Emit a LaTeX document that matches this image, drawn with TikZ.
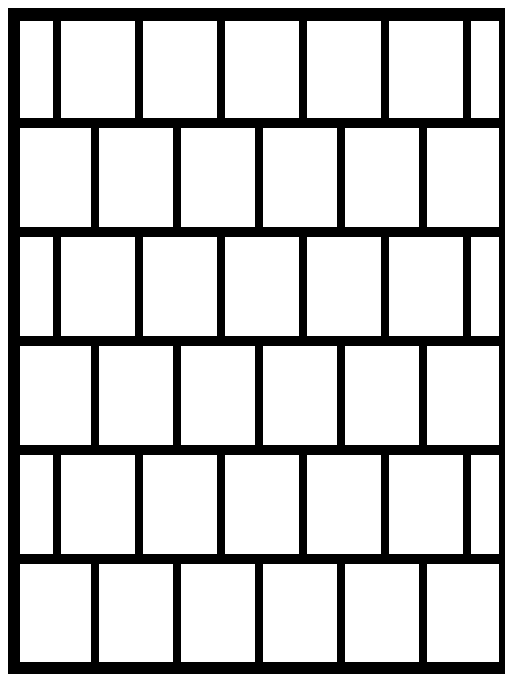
\documentclass[tikz,border=0pt]{standalone}
\begin{document}
\begin{tikzpicture}[x=1pt,y=-1pt,
  frame/.style={line width=12.5pt, line join=miter},
  course/.style={line width=10pt},
  joint/.style={line width=8pt}]
\useasboundingbox (0,0) rectangle (505,678);
\clip (0,0) rectangle (505,678);
\fill[white] (0,0) rectangle (505,678);
% horizontal mortar courses
\foreach \y in {123,232,341,450,559} {
  \draw[course] (14,\y) -- (505,\y);
}
% vertical joints, odd rows
\foreach \r in {0,2,4} {
  \pgfmathsetmacro{\ya}{14+109*\r}
  \pgfmathsetmacro{\yb}{14+109*(\r+1)}
  \foreach \x in {57,139,221,303,385,467} {
    \draw[joint] (\x,\ya) -- (\x,\yb);
  }
}
% vertical joints, even rows
\foreach \r in {1,3,5} {
  \pgfmathsetmacro{\ya}{14+109*\r}
  \pgfmathsetmacro{\yb}{14+109*(\r+1)}
  \foreach \x in {95,177,259,341,423} {
    \draw[joint] (\x,\ya) -- (\x,\yb);
  }
}
% outer frame
\draw[frame] (14,14.5) rectangle (505.5,668);
\end{tikzpicture}
\end{document}
